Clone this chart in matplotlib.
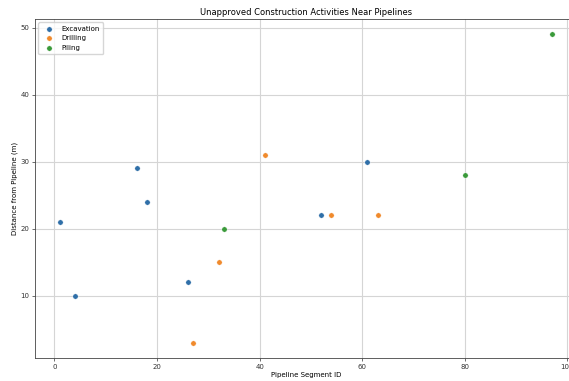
import matplotlib
matplotlib.use("Agg")
import matplotlib.pyplot as plt

exc_x = [1, 4, 16, 18, 26, 52, 61]
exc_y = [21, 10, 29, 24, 12, 22, 30]
dri_x = [27, 32, 41, 54, 63]
dri_y = [3, 15, 31, 22, 22]
pil_x = [33, 80, 97]
pil_y = [20, 28, 49]

fig = plt.figure(figsize=(5.69, 3.81), dpi=100)
ax = fig.add_axes([0.0615, 0.0604, 0.952, 0.890])
series = [("Excavation", exc_x, exc_y, "#2f6fa8"),
          ("Drilling", dri_x, dri_y, "#f08a2c"),
          ("Piling", pil_x, pil_y, "#3a9a3a")]
for name, xs, ys, c in series:
    ax.scatter(xs, ys, s=15, color=c, edgecolor="white", linewidth=0.3, label=name, zorder=3)

ax.set_xticks([0, 20, 40, 60, 80, 100])
ax.set_yticks([10, 20, 30, 40, 50])
ax.grid(True, color="#d5d5d5", linewidth=0.8)
ax.set_axisbelow(True)
ax.tick_params(labelsize=5, length=2, width=0.5, pad=2, colors="#333333")
for sp in ax.spines.values():
    sp.set_linewidth(0.6)
    sp.set_color("#444444")
ax.set_title("Unapproved Construction Activities Near Pipelines", fontsize=6, pad=3)
ax.set_xlabel("Pipeline Segment ID", fontsize=5, labelpad=2)
ax.set_ylabel("Distance from Pipeline (m)", fontsize=5, labelpad=2)
ax.legend(loc="upper left", fontsize=5, markerscale=1.0, handletextpad=0.8, borderpad=0.5, labelspacing=0.5)

fig.savefig("out.png", dpi=100)
